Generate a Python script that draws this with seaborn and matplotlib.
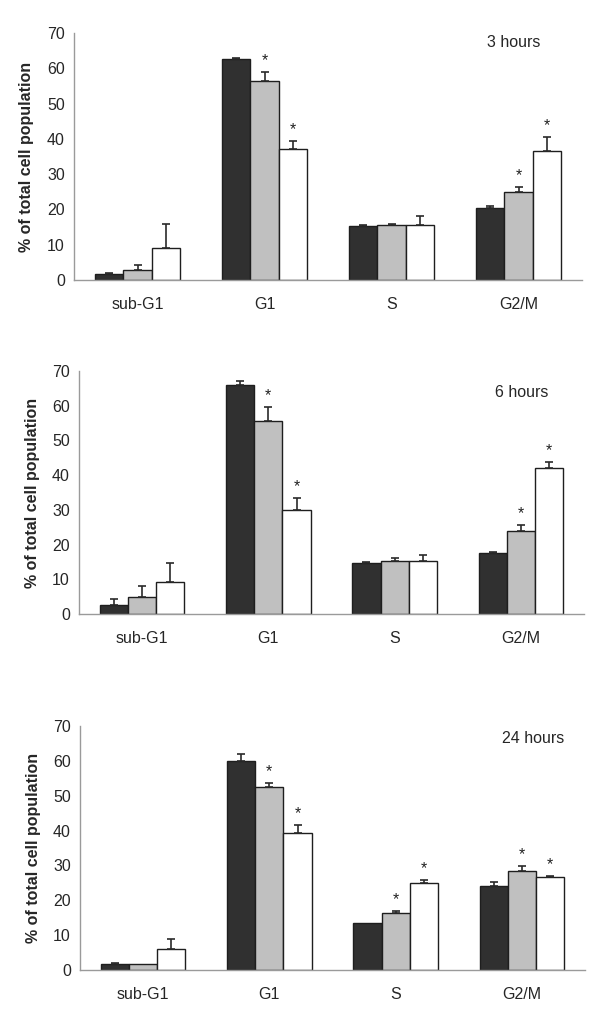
import numpy as np
import pandas as pd
import seaborn as sns
import matplotlib.pyplot as plt
from matplotlib.ticker import FixedLocator
from matplotlib.container import BarContainer

# ---------------------------------------------------------
#   Datos
# ---------------------------------------------------------
FASES = ["sub-G1", "G1", "S", "G2/M"]
GRUPOS = ["grupo 1", "grupo 2", "grupo 3"]
TIEMPOS = ["3 hours", "6 hours", "24 hours"]

# medias por fase (filas) y grupo (columnas)
media_3h = [[1.8, 2.8, 9.0], [62.5, 56.5, 37.0], [15.3, 15.7, 15.7], [20.3, 25.0, 36.6]]
error_3h = [[0.2, 1.4, 7.0], [0.3, 2.5, 2.4], [0.3, 0.3, 2.4], [0.7, 1.4, 3.9]]
media_6h = [[2.5, 4.9, 9.2], [66.0, 55.5, 29.9], [14.7, 15.3, 15.3], [17.5, 23.9, 42.0]]
error_6h = [[1.8, 3.2, 5.4], [1.0, 4.2, 3.6], [0.2, 0.7, 1.7], [0.3, 1.8, 1.8]]
media_24h = [[1.7, 1.7, 6.0], [59.9, 52.6, 39.4], [13.5, 16.3, 24.9], [24.2, 28.4, 26.6]]
error_24h = [[0.4, 0.0, 2.9], [2.0, 1.1, 2.2], [0.0, 0.7, 1.0], [1.0, 1.4, 0.3]]

# (fase, grupo) con diferencia significativa
signif_3h = [(1, 1), (1, 2), (3, 1), (3, 2)]
signif_6h = [(1, 1), (1, 2), (3, 1), (3, 2)]
signif_24h = [(1, 1), (1, 2), (2, 1), (2, 2), (3, 1), (3, 2)]

PALETA = ["#303030", "#c0c0c0", "#ffffff"]
GRIS_EJE = "#9a9a9a"

# posicion de cada panel en pixeles: izquierda, derecha, arriba (70), abajo (0)
PANELES = [
    (74, 582, 33, 280),
    (79, 584, 371, 614),
    (80, 585, 726, 970),
]
POS_TEXTO = [(2.96, 67.4), (3.01, 63.7), (3.09, 66.5)]

W, H = 600, 1027


def tabla_larga(media):
    filas = []
    for i, fase in enumerate(FASES):
        for j, grupo in enumerate(GRUPOS):
            filas.append({"fase": fase, "grupo": grupo, "valor": media[i][j]})
    return pd.DataFrame(filas)


def dibujar_panel(ax, media, error, signif, titulo, pos_texto):
    df = tabla_larga(media)
    sns.barplot(data=df, x="fase", y="valor", hue="grupo", order=FASES,
                hue_order=GRUPOS, palette=PALETA, saturation=1, width=0.67,
                edgecolor="#1e1e1e", linewidth=1.0, errorbar=None,
                legend=False, ax=ax)

    # barras de error (solo hacia arriba) y asteriscos
    barras = [c for c in ax.containers if isinstance(c, BarContainer)]
    for j, cont in enumerate(barras):
        for bar in cont.patches:
            cx = bar.get_x() + bar.get_width() / 2
            i = int(round(cx))
            h = bar.get_height()
            e = error[i][j]
            if e > 0:
                ax.errorbar(cx, h, yerr=[[0], [e]], fmt="none", ecolor="#2a2a2a",
                            elinewidth=1.2, capsize=3.2, capthick=1.2, zorder=3)
            if (i, j) in signif:
                ax.text(cx, h + e + 1.1, "*", ha="center", va="bottom",
                        fontsize=11.5, color="#222222")

    ax.set_ylim(0, 70)
    ax.set_xlim(-0.5, 3.5)
    ax.set_yticks(range(0, 71, 10))
    ax.set_xlabel("")
    ax.set_ylabel("% of total cell population", fontsize=11.5, fontweight="bold",
                  va="center")
    ax.yaxis.set_label_coords(-0.093, 0.5)

    for lado in ["top", "right"]:
        ax.spines[lado].set_visible(False)
    for lado in ["left", "bottom"]:
        ax.spines[lado].set_color(GRIS_EJE)
        ax.spines[lado].set_linewidth(1.0)

    ax.tick_params(axis="y", direction="out", length=3.5, width=1.0,
                   color=GRIS_EJE, labelsize=11.5, pad=3)
    ax.tick_params(axis="x", which="major", length=0, labelsize=11.5, pad=12)
    ax.xaxis.set_minor_locator(FixedLocator(np.arange(-0.5, 4.0, 1.0)))
    ax.tick_params(axis="x", which="minor", direction="out", length=3.5,
                   width=1.0, color=GRIS_EJE)

    ax.text(pos_texto[0], pos_texto[1], titulo, ha="center", va="center",
            fontsize=11.5)


sns.set_theme(style="white")
plt.rcParams["font.family"] = ["Liberation Sans", "DejaVu Sans"]

fig = plt.figure(figsize=(W / 100, H / 100), dpi=100)

datos = [
    (media_3h, error_3h, signif_3h),
    (media_6h, error_6h, signif_6h),
    (media_24h, error_24h, signif_24h),
]

for (izq, der, arr, aba), (media, error, signif), titulo, pos in zip(
        PANELES, datos, TIEMPOS, POS_TEXTO):
    ax = fig.add_axes([izq / W, (H - aba) / H, (der - izq) / W, (aba - arr) / H])
    dibujar_panel(ax, media, error, signif, titulo, pos)

fig.savefig("out.png", dpi=100)
